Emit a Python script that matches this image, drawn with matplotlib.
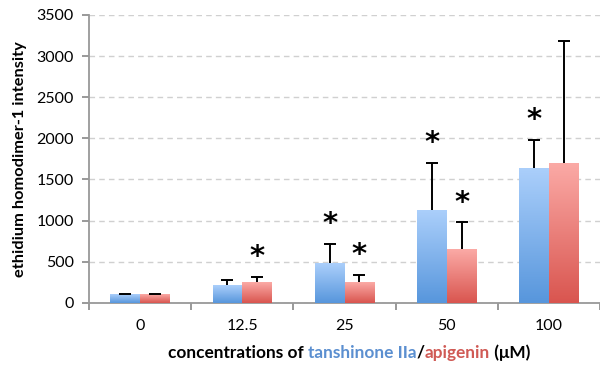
import numpy as np
import matplotlib
matplotlib.use("Agg")
import matplotlib.pyplot as plt
from matplotlib.colors import LinearSegmentedColormap

# data
concentrations = ["0", "12.5", "25", "50", "100"]
tanshinone = [100, 210, 485, 1130, 1635]
tanshinone_err = [5, 65, 230, 570, 345]
apigenin = [100, 250, 252, 653, 1696]
apigenin_err = [5, 65, 90, 325, 1490]
tanshinone_sig = [False, False, True, True, True]
apigenin_sig = [False, True, True, True, False]

plt.rcParams['font.family'] = ['Lato', 'DejaVu Sans']

fig = plt.figure(figsize=(6.0, 3.65), dpi=100)
ax = fig.add_axes([89 / 600, 1 - 302.7 / 365, 1 - 89 / 600, (302.7 - 15) / 365])

x = np.arange(len(concentrations))
w = 0.29

blue_cmap = LinearSegmentedColormap.from_list("b", ["#5796dc", "#abcffb"])
red_cmap = LinearSegmentedColormap.from_list("r", ["#d9554f", "#fbaaa6"])
grad = np.linspace(0, 1, 256).reshape(-1, 1)

def gradient_bars(xs, vals, cmap):
    bars = ax.bar(xs, vals, w, color='none', edgecolor='none', zorder=3)
    for b in bars:
        x0, y0 = b.get_x(), b.get_y()
        im = ax.imshow(grad, cmap=cmap, origin='lower', aspect='auto',
                       extent=[x0, x0 + b.get_width(), y0, y0 + b.get_height()],
                       zorder=3)
        im.set_clip_path(b)
    return bars

gradient_bars(x - w / 2, tanshinone, blue_cmap)
gradient_bars(x + w / 2, apigenin, red_cmap)

for xs, vals, errs, sig in [(x - w / 2, tanshinone, tanshinone_err, tanshinone_sig),
                            (x + w / 2, apigenin, apigenin_err, apigenin_sig)]:
    eb = ax.errorbar(xs, vals, yerr=[np.zeros(len(vals)), errs], fmt='none',
                     ecolor='black', elinewidth=1.4, capsize=4.5, capthick=1.4, zorder=4)
    caps = eb.lines[1]
    caps[0].set_visible(False)  # no lower caps
    for xi, v, e, s in zip(xs, vals, errs, sig):
        if s:
            ax.annotate("*", (xi, v + e), xytext=(0, 4), textcoords='offset points',
                        ha='center', va='bottom', fontsize=21, fontweight='bold',
                        family='DejaVu Sans')

ax.set_xlim(-0.5, 4.41)
ax.set_ylim(0, 3500)
ax.set_yticks(np.arange(0, 3501, 500))
ax.yaxis.grid(True, color='#d0d0d0', linestyle=(0, (4, 3)), linewidth=1.0)
ax.set_axisbelow(True)

ax.set_xticks(np.arange(-0.5, 4.6, 1.0))
ax.set_xticklabels([])
ax.set_xticks(x, minor=True)
ax.set_xticklabels(concentrations, minor=True)
ax.tick_params(axis='x', which='major', length=5, color='#888888', width=1.2)
ax.tick_params(axis='x', which='minor', length=0, pad=12, labelsize=11.5)
ax.tick_params(axis='y', length=5, color='#888888', width=1.2, labelsize=11.5, pad=6)

for side in ['top', 'right']:
    ax.spines[side].set_visible(False)
for side in ['left', 'bottom']:
    ax.spines[side].set_color('#999999')
    ax.spines[side].set_linewidth(1.3)

fig.text(20 / 600, 1 - 159 / 365, "ethidium homodimer-1 intensity", rotation=90,
         ha='center', va='center', fontsize=11.8, fontweight='bold')

# multicoloured x label
parts = [("concentrations of ", "black"), ("tanshinone IIa", "#5b8fd0"),
         ("/", "black"), ("apigenin", "#d05a55"), (" (μM)", "black")]
texts = []
fig.canvas.draw()
r = fig.canvas.get_renderer()
xpos = 0
ylab = 1 - 353 / 365
for s, c in parts:
    t = fig.text(xpos, ylab, s, color=c, fontsize=12.4, fontweight='bold',
                 ha='left', va='center')
    bb = t.get_window_extent(r)
    texts.append(t)
    xpos += bb.width / fig.bbox.width
start = 349 / 600 - xpos / 2
for t in texts:
    t.set_x(t.get_position()[0] + start)

fig.savefig("out.png", dpi=100)
